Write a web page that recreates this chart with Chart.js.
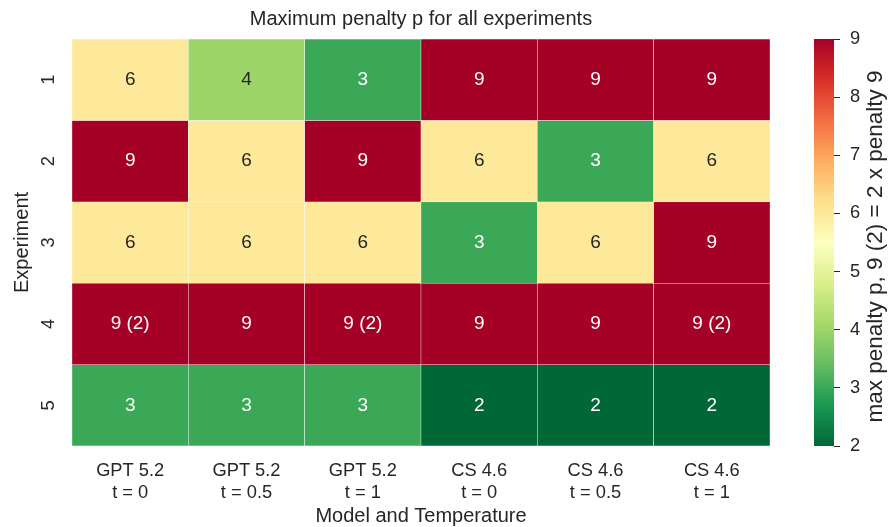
<!DOCTYPE html>
<html>
<head>
<meta charset="utf-8">
<script src="https://cdn.jsdelivr.net/npm/chart.js@4.4.1/dist/chart.umd.min.js"></script>
<style>
  html, body { margin: 0; padding: 0; background: #fff; }
  #wrap { position: relative; width: 888px; height: 527px; }
  #heat { position: absolute; left: 0; top: 0; }
  #cbar { position: absolute; left: 790px; top: 0; }
</style>
</head>
<body>
<div id="wrap">
  <canvas id="heat" width="842" height="527"></canvas>
  <canvas id="cbar" width="98" height="527"></canvas>
</div>
<script>
// 데이터
const models = [
  ['GPT 5.2', 't = 0'], ['GPT 5.2', 't = 0.5'], ['GPT 5.2', 't = 1'],
  ['CS 4.6', 't = 0'], ['CS 4.6', 't = 0.5'], ['CS 4.6', 't = 1'],
];
const experiments = ['1', '2', '3', '4', '5'];
const penalty = [
  [6, 4, 3, 9, 9, 9],
  [9, 6, 9, 6, 3, 6],
  [6, 6, 6, 3, 6, 9],
  [9, 9, 9, 9, 9, 9],
  [3, 3, 3, 2, 2, 2],
];
const cellText = [
  ['6', '4', '3', '9', '9', '9'],
  ['9', '6', '9', '6', '3', '6'],
  ['6', '6', '6', '3', '6', '9'],
  ['9 (2)', '9', '9 (2)', '9', '9', '9 (2)'],
  ['3', '3', '3', '2', '2', '2'],
];
const cbTicks = [2, 3, 4, 5, 6, 7, 8, 9];
const cbLabel = 'max penalty p, 9 (2) = 2 x penalty 9';

const vmin = cbTicks[0];
const vmax = cbTicks[cbTicks.length - 1];

// RdYlGn_r 컬러맵
const RdYlGn_r = ['#006837', '#1a9850', '#66bd63', '#a6d96a', '#d9ef8b', '#ffffbf',
  '#fee08b', '#fdae61', '#f46d43', '#d73027', '#a50026'];
const hexRgb = (h) => [1, 3, 5].map((i) => parseInt(h.slice(i, i + 2), 16));
function cmapRgb(v) {
  const t = Math.min(1, Math.max(0, (v - vmin) / (vmax - vmin)));
  const p = t * 10;
  const i = Math.min(9, Math.floor(p));
  const f = p - i;
  const a = hexRgb(RdYlGn_r[i]), b = hexRgb(RdYlGn_r[i + 1]);
  return a.map((x, k) => Math.round(x + (b[k] - x) * f));
}
const cmap = (v) => `rgb(${cmapRgb(v).join(',')})`;
function textColor(v) {
  const lin = cmapRgb(v).map((c) => {
    c /= 255;
    return c <= 0.03928 ? c / 12.92 : Math.pow((c + 0.055) / 1.055, 2.4);
  });
  const lum = 0.2126 * lin[0] + 0.7152 * lin[1] + 0.0722 * lin[2];
  return lum > 0.408 ? '#262626' : '#ffffff';
}

const FONT = "'Liberation Sans', Arial, sans-serif";
Chart.defaults.font.family = FONT;
Chart.defaults.color = '#262626';

// 셀 숫자 표시
const cellLabels = {
  id: 'cellLabels',
  afterDatasetsDraw(chart) {
    const ctx = chart.ctx;
    ctx.save();
    ctx.font = `19px ${FONT}`;
    ctx.textAlign = 'center';
    ctx.textBaseline = 'middle';
    chart.data.datasets.forEach((ds, r) => {
      chart.getDatasetMeta(r).data.forEach((bar, c) => {
        ctx.fillStyle = textColor(penalty[r][c]);
        ctx.fillText(cellText[r][c], bar.x, (bar.y + bar.base) / 2);
      });
    });
    ctx.restore();
  },
};

// 히트맵
new Chart(document.getElementById('heat'), {
  type: 'bar',
  data: {
    labels: models,
    datasets: experiments.map((e, r) => ({
      label: 'Experiment ' + e,
      data: models.map(() => 1),
      backgroundColor: penalty[r].map(cmap),
      borderColor: '#ffffff',
      borderWidth: 0.5,
      borderSkipped: false,
      barPercentage: 1,
      categoryPercentage: 1,
    })),
  },
  options: {
    responsive: false,
    animation: false,
    layout: { padding: 0 },
    plugins: {
      legend: { display: false },
      tooltip: { enabled: false },
      title: {
        display: true,
        text: 'Maximum penalty p for all experiments',
        font: { size: 20, weight: 'normal' },
        color: '#262626',
        padding: { top: 7, bottom: 8 },
      },
    },
    scales: {
      x: {
        stacked: true,
        grid: { display: false },
        border: { display: false },
        ticks: { padding: 6, font: { size: 18.3, lineHeight: '22px' } },
        title: {
          display: true,
          text: 'Model and Temperature',
          font: { size: 20, lineHeight: 1.1 },
          padding: { top: 0, bottom: 0 },
        },
        afterFit: (s) => { s.height = 81; },
      },
      y: {
        stacked: true,
        reverse: true,
        min: 0,
        max: 5,
        grid: { display: false },
        border: { display: false },
        afterBuildTicks: (s) => { s.ticks = experiments.map((_, i) => ({ value: i + 0.5 })); },
        ticks: {
          callback: (v) => experiments[Math.floor(v)],
          minRotation: 90,
          maxRotation: 90,
          crossAlign: 'center',
          padding: 10,
          font: { size: 18.3 },
        },
        title: {
          display: true,
          text: 'Experiment',
          font: { size: 20 },
          padding: { top: 10, bottom: 0 },
        },
        afterFit: (s) => { s.width = 72; },
      },
      // 제목 중앙 맞추기용 빈 축
      yR: {
        position: 'right',
        grid: { display: false },
        border: { display: false },
        ticks: { display: false },
        afterFit: (s) => { s.width = 72; },
      },
    },
  },
  plugins: [cellLabels],
});

// 컬러바 라벨
const cbTitle = {
  id: 'cbTitle',
  afterDraw(chart) {
    const { ctx, chartArea } = chart;
    ctx.save();
    ctx.translate(86, (chartArea.top + chartArea.bottom) / 2 + 4);
    ctx.rotate(-Math.PI / 2);
    ctx.font = `22.5px ${FONT}`;
    ctx.fillStyle = '#262626';
    ctx.textAlign = 'center';
    ctx.textBaseline = 'middle';
    ctx.fillText(cbLabel, 0, 0);
    ctx.restore();
  },
};

// 컬러바
new Chart(document.getElementById('cbar'), {
  type: 'bar',
  data: {
    labels: [''],
    datasets: [{
      data: [[vmin, vmax]],
      backgroundColor: (c) => {
        const chart = c.chart;
        const y = chart.scales.y;
        if (!chart.chartArea || !y) return RdYlGn_r[5];
        const g = chart.ctx.createLinearGradient(0, y.getPixelForValue(vmin), 0, y.getPixelForValue(vmax));
        RdYlGn_r.forEach((col, i) => g.addColorStop(i / 10, col));
        return g;
      },
      borderWidth: 0,
      barPercentage: 1,
      categoryPercentage: 1,
    }],
  },
  options: {
    responsive: false,
    animation: false,
    layout: { padding: { left: 24, top: 39, bottom: 81, right: 0 } },
    plugins: { legend: { display: false }, tooltip: { enabled: false } },
    scales: {
      x: { display: false },
      y: {
        position: 'right',
        min: vmin,
        max: vmax,
        afterBuildTicks: (s) => { s.ticks = cbTicks.map((v) => ({ value: v })); },
        grid: { drawOnChartArea: false, drawTicks: true, tickLength: 6, tickColor: '#262626', tickWidth: 1 },
        border: { display: false },
        ticks: { padding: 10, font: { size: 18.3 } },
        afterFit: (s) => { s.width = 54; },
      },
    },
  },
  plugins: [cbTitle],
});
</script>
</body>
</html>
